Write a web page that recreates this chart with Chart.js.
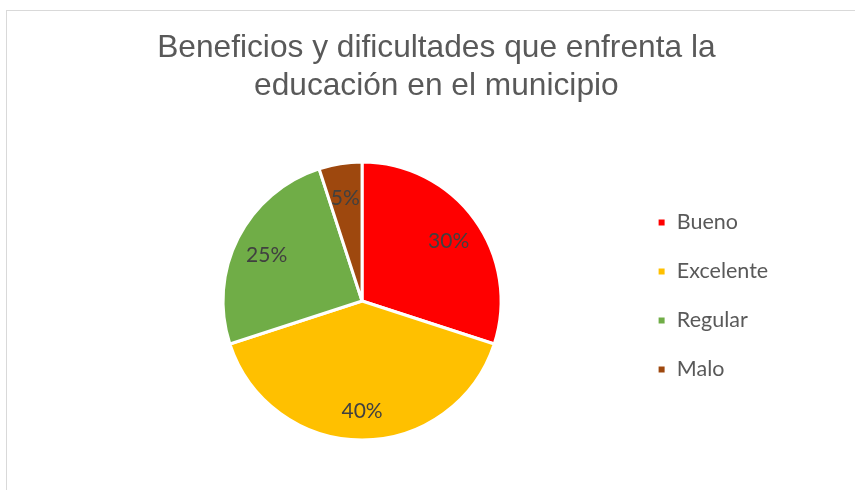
<!DOCTYPE html>
<html>
<head>
<meta charset="utf-8">
<script src="https://cdn.jsdelivr.net/npm/chart.js@4.4.1/dist/chart.umd.min.js"></script>
<style>
  html, body { margin: 0; padding: 0; background: #fff; overflow: hidden; }
  #frame {
    position: absolute; left: 6px; top: 10px; width: 900px; height: 500px;
    border-left: 1px solid #d9d9d9; border-top: 1px solid #d9d9d9;
  }
  #mycanvas { position: absolute; left: 0; top: 0; }
</style>
</head>
<body>
<div id="frame"></div>
<canvas id="mycanvas" width="855" height="490"></canvas>
<script>
var titulo = ['Beneficios y dificultades que enfrenta la', 'educación en el municipio'];
var categorias = ['Bueno', 'Excelente', 'Regular', 'Malo'];
var valores = [30, 40, 25, 5];
var colores = ['#FF0000', '#FFC000', '#70AD47', '#9E480E'];

// porcentajes dentro de cada rebanada
var etiquetas = {
  id: 'etiquetas',
  afterDatasetsDraw: function(chart) {
    var ctx = chart.ctx;
    var meta = chart.getDatasetMeta(0);
    var total = valores.reduce(function(a, b) { return a + b; }, 0);
    ctx.save();
    ctx.font = '21px Lato';
    ctx.fillStyle = '#404040';
    ctx.textAlign = 'center';
    ctx.textBaseline = 'middle';
    meta.data.forEach(function(arc, i) {
      var p = arc.getProps(['x', 'y', 'startAngle', 'endAngle', 'outerRadius'], true);
      var ang = (p.startAngle + p.endAngle) / 2;
      var r = p.outerRadius * 0.77;
      var txt = Math.round(valores[i] / total * 100) + '%';
      ctx.fillText(txt, p.x + Math.cos(ang) * r, p.y + Math.sin(ang) * r + 3);
    });
    ctx.restore();
  }
};

var ctx = document.getElementById('mycanvas');
var grafica = new Chart(ctx, {
  type: 'pie',
  data: {
    labels: categorias,
    datasets: [{
      data: valores,
      backgroundColor: colores,
      borderColor: '#ffffff',
      borderWidth: 3,
      radius: 139
    }]
  },
  options: {
    responsive: false,
    animation: false,
    layout: { padding: { left: 94.5, right: 76.8, top: 10, bottom: 2.85 } },
    plugins: {
      title: {
        display: true,
        text: titulo,
        color: '#595959',
        font: { family: 'Liberation Sans', size: 31.7, weight: 'normal', lineHeight: 1.19 },
        padding: { top: 19.4, bottom: 10 }
      },
      legend: {
        position: 'right',
        align: 'start',
        fullSize: false,
        title: { display: true, text: '', padding: { top: 55, bottom: 0 } },
        labels: {
          boxWidth: 9,
          boxHeight: 9,
          padding: 27.5,
          color: '#595959',
          font: { family: 'Lato', size: 21.5 }
        }
      },
      tooltip: { enabled: false }
    }
  },
  plugins: [etiquetas]
});
</script>
</body>
</html>
